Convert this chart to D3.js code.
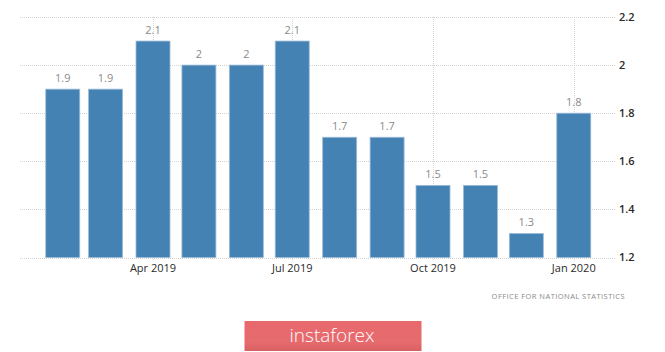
<!DOCTYPE html>
<html>
<head>
<meta charset="utf-8">
<script src="https://cdnjs.cloudflare.com/ajax/libs/d3/7.8.5/d3.min.js"></script>
<style>
  body { margin: 0; background: #fff; }
  svg { display: block; font-family: "Open Sans", "DejaVu Sans", sans-serif; }
</style>
</head>
<body>
<div id="chart"></div>
<script>
// data
let months = ["2019-02", "2019-03", "2019-04", "2019-05", "2019-06", "2019-07",
  "2019-08", "2019-09", "2019-10", "2019-11", "2019-12", "2020-01"];
let values = [1.9, 1.9, 2.1, 2, 2, 2.1, 1.7, 1.7, 1.5, 1.5, 1.3, 1.8];
let yTicks = [1.2, 1.4, 1.6, 1.8, 2, 2.2];
let xTicks = ["2019-04", "2019-07", "2019-10", "2020-01"];
let source = "OFFICE FOR NATIONAL STATISTICS";

/** CONSTANTS */
let width = 665,
  height = 352,
  gridLeft = 20,
  gridRight = 616,
  barWidth = 34,
  parse = d3.timeParse("%Y-%m");

let data = months.map((m, i) => ({ date: parse(m), value: values[i] }));

/** SCALES */
let xScale = d3
  .scaleTime()
  .domain([parse("2019-01"), parse("2020-02")])
  .range([15.3, 621.2]);

let yScale = d3
  .scaleLinear()
  .domain([1.2, 2.2])
  .range([257.5, 17]);

/** MAIN CODE */
let svg = d3
  .select("#chart")
  .append("svg")
  .attr("width", width)
  .attr("height", height);

// horizontal grid
svg.append("g")
  .selectAll("line")
  .data(yTicks)
  .join("line")
  .attr("x1", gridLeft)
  .attr("x2", gridRight)
  .attr("y1", d => Math.round(yScale(d)) + 0.5)
  .attr("y2", d => Math.round(yScale(d)) + 0.5)
  .attr("stroke", "#d4d4d4")
  .attr("stroke-dasharray", "1,1");

// vertical grid
svg.append("g")
  .selectAll("line")
  .data(xTicks.map(parse))
  .join("line")
  .attr("x1", d => Math.round(xScale(d)) + 0.5)
  .attr("x2", d => Math.round(xScale(d)) + 0.5)
  .attr("y1", yScale(2.2))
  .attr("y2", yScale(1.2) + 4)
  .attr("stroke", "#d4d4d4")
  .attr("stroke-dasharray", "1,1");

// bars
svg.append("g")
  .selectAll("rect")
  .data(data)
  .join("rect")
  .attr("x", d => xScale(d.date) - barWidth / 2)
  .attr("y", d => yScale(d.value))
  .attr("width", barWidth)
  .attr("height", d => yScale(1.2) - yScale(d.value))
  .attr("fill", "#4482b4")
  .attr("stroke", "#9dbcd9")
  .attr("stroke-width", 0.8);

// value labels
svg.append("g")
  .selectAll("text")
  .data(data)
  .join("text")
  .attr("x", d => xScale(d.date))
  .attr("y", d => yScale(d.value) - 7)
  .attr("text-anchor", "middle")
  .attr("font-size", 11)
  .attr("fill", "#8a8a8a")
  .text(d => d.value);

// y axis labels (right)
svg.append("g")
  .selectAll("text")
  .data(yTicks)
  .join("text")
  .attr("x", 619)
  .attr("y", d => yScale(d))
  .attr("dy", "0.35em")
  .attr("font-size", 11)
  .attr("font-weight", 600)
  .attr("fill", "#2a2a2a")
  .text(d => d3.format("")(d));

// x axis labels
svg.append("g")
  .selectAll("text")
  .data(xTicks.map(parse))
  .join("text")
  .attr("x", d => xScale(d))
  .attr("y", 268)
  .attr("dy", "0.35em")
  .attr("text-anchor", "middle")
  .attr("font-size", 11)
  .attr("fill", "#2a2a2a")
  .text(d3.timeFormat("%b %Y"));

// source
svg.append("text")
  .attr("x", 625)
  .attr("y", 299)
  .attr("text-anchor", "end")
  .attr("font-size", 7.5)
  .attr("letter-spacing", 0.45)
  .attr("fill", "#8a8a8a")
  .text(source);

// instaforex badge
let grad = svg.append("defs").append("linearGradient")
  .attr("id", "badge")
  .attr("x1", 0).attr("y1", 0).attr("x2", 0).attr("y2", 1);
grad.append("stop").attr("offset", "0%").attr("stop-color", "#e8696d");
grad.append("stop").attr("offset", "70%").attr("stop-color", "#e66b6e");
grad.append("stop").attr("offset", "100%").attr("stop-color", "#d85f62");

svg.append("rect")
  .attr("x", 244.5)
  .attr("y", 321)
  .attr("width", 177)
  .attr("height", 30)
  .attr("fill", "url(#badge)");

svg.append("text")
  .attr("x", 332)
  .attr("y", 342)
  .attr("text-anchor", "middle")
  .attr("font-size", 19)
  .attr("font-weight", 300)
  .attr("fill", "#fff")
  .text("instaforex");
</script>
</body>
</html>
